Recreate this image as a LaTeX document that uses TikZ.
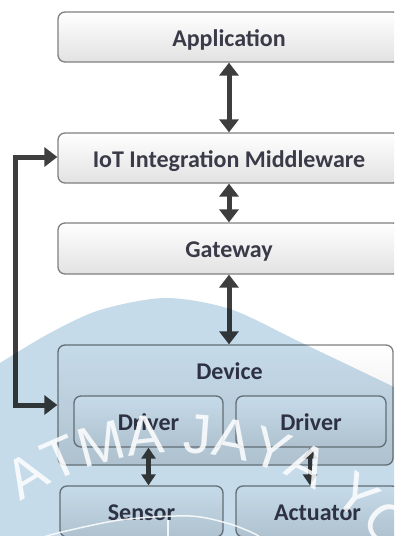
\documentclass[tikz,border=0pt]{standalone}
\usepackage{fontspec}
\setmainfont{Carlito}
\newfontfamily\wmfont[LetterSpace=2]{Liberation Sans}
\usetikzlibrary{arrows.meta,decorations.text}

\definecolor{boxline}{HTML}{808080}
\definecolor{boxtop}{HTML}{FFFFFF}
\definecolor{boxbot}{HTML}{E2E2E2}
\definecolor{labeltext}{HTML}{3A3A48}
\definecolor{linkcol}{HTML}{3E3E3E}
\definecolor{wmblue}{RGB}{198,219,234}

\tikzset{
  layerbox/.style={draw=boxline, line width=1.3pt, rounded corners=7pt,
    top color=boxtop, bottom color=boxbot, inner sep=0pt,
    minimum height=51pt, text=labeltext,
    font=\fontsize{24}{26}\selectfont\bfseries, text height=20pt, text depth=2pt},
  twoway/.style={draw=linkcol, line width=5pt,
    {Triangle[width=19pt,length=13pt]}-{Triangle[width=19pt,length=13pt]}},
  twowaysmall/.style={draw=linkcol, line width=4.5pt,
    {Triangle[width=14pt,length=11pt]}-{Triangle[width=14pt,length=11pt]}},
  toboth/.style={draw=linkcol, line width=5pt, line join=miter,
    {Triangle[width=19pt,length=13pt]}-{Triangle[width=19pt,length=13pt]}}
}

\begin{document}
\begin{tikzpicture}[x=1pt,y=-1pt]
\useasboundingbox (0,0) rectangle (394,536);
\clip (0,0) rectangle (394,536);
\fill[white] (0,0) rectangle (394,536);

% stack of layers
\node[layerbox, minimum width=342pt, minimum height=50pt] (app) at (229,37) {Application};
\node[layerbox, minimum width=342pt, minimum height=50pt] (mw) at (229,158) {IoT Integration Middleware};
\node[layerbox, minimum width=342pt] (gw) at (229,248.5) {Gateway};
\node[layerbox, minimum width=335pt, minimum height=120pt] (dev) at (225.5,405) {};
\node[text=labeltext, font=\fontsize{24}{26}\selectfont\bfseries, inner sep=0pt] (devlbl) at (229.5,371.5) {Device};
\node[layerbox, minimum width=149pt] (drv1) at (148.5,421.5) {Driver};
\node[layerbox, minimum width=150pt] (drv2) at (311,421.5) {Driver};
\node[layerbox, minimum width=163pt] (sen) at (141.5,511.5) {Sensor};
\node[layerbox, minimum width=163pt] (act) at (317.5,511.5) {Actuator};

% links between layers
\draw[twoway] (app.south) -- (mw.north);
\draw[twoway] (mw.south) -- (gw.north);
\draw[twoway] (gw.south) -- (gw.south |- dev.north);
\draw[twowaysmall] (drv1.south) -- (drv1.south |- sen.north);
\draw[twowaysmall] ([xshift=-1pt]drv2.south) -- ([xshift=-1pt]drv2.south |- act.north);
\draw[toboth] ([yshift=1pt]mw.west) -- ++(-42,0) coordinate (bend) |- (dev.west);

% watermark
\fill[wmblue, blend mode=multiply] plot[smooth] coordinates {(-10,370) (0,363) (50,333) (100,310) (165,298) (230,309) (300,342) (394,387) (410,395)}
  -- (410,545) -- (-10,545) -- cycle;
\begin{scope}[opacity=0.85]
\path[decorate, decoration={text along path, text color=white, text align=left,
  text={|\wmfont\fontsize{56}{56}\selectfont|ATMA JAYA YO}}]
  (177,726) ++(-125:273) arc[start angle=-125, end angle=-15, radius=273];
\draw[white, line width=1.5pt] plot[smooth] coordinates {(40,541) (50,535) (120,520) (190,516) (230,524) (257,535) (262,541)};
\draw[white, line width=1.5pt] (168,520) -- (168,540);
\end{scope}
\end{tikzpicture}
\end{document}
